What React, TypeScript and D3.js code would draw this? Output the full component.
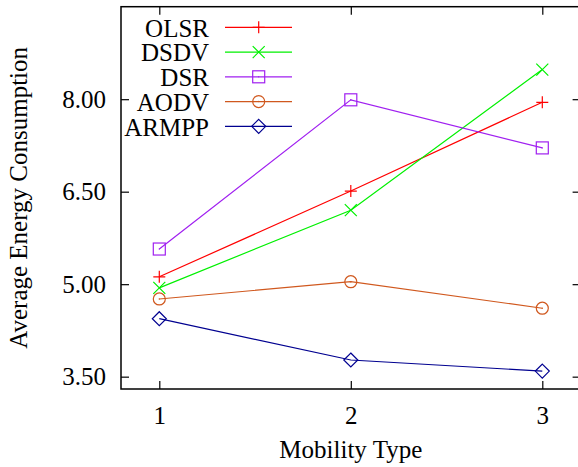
import * as d3 from 'd3';
import React, { useRef, useEffect } from 'react';

const mobilityTypes = [1, 2, 3];
const olsr = [5.12, 6.51, 7.95];
const dsdv = [4.94, 6.2, 8.48];
const dsr = [5.57, 7.99, 7.21];
const aodv = [4.76, 5.04, 4.61];
const armpp = [4.44, 3.77, 3.59];
const yTicks = [3.5, 5.0, 6.5, 8.0];

const seriesList = [
  { name: 'OLSR', values: olsr, color: '#ff0000', marker: 'plus' },
  { name: 'DSDV', values: dsdv, color: '#00f000', marker: 'cross' },
  { name: 'DSR', values: dsr, color: '#a020f0', marker: 'square' },
  { name: 'AODV', values: aodv, color: '#d0581e', marker: 'circle' },
  { name: 'ARMPP', values: armpp, color: '#000090', marker: 'diamond' },
];

export default function App() {
  const svgRef = useRef<SVGSVGElement>(null);
  const width = 578;
  const height = 467;
  const left = 121;
  const right = 580.6;
  const top = 6.7;
  const bottom = 389;
  const font = 'Liberation Serif, Times New Roman, Times, serif';
  const fontSize = '25px';

  useEffect(() => {
    if (!svgRef.current) return;
    const svg = d3.select(svgRef.current);
    svg.selectAll('*').remove();
    svg.style('font-family', font);

    const x = d3.scaleLinear().domain([0.8, 3.2]).range([left, right]);
    const y = d3.scaleLinear().domain([3.3, 9.5]).range([bottom, top]);

    // draws one point symbol
    const drawMarker = (g: any, kind: string, cx: number, cy: number, color: string) => {
      const s = 6;
      if (kind === 'plus') {
        g.append('path').attr('d', `M${cx - s},${cy}H${cx + s}M${cx},${cy - s}V${cy + s}`)
          .attr('stroke', color).attr('stroke-width', 1.2).attr('fill', 'none');
      } else if (kind === 'cross') {
        g.append('path').attr('d', `M${cx - s},${cy - s}L${cx + s},${cy + s}M${cx - s},${cy + s}L${cx + s},${cy - s}`)
          .attr('stroke', color).attr('stroke-width', 1.2).attr('fill', 'none');
      } else if (kind === 'square') {
        g.append('rect').attr('x', cx - s).attr('y', cy - s).attr('width', 2 * s).attr('height', 2 * s)
          .attr('stroke', color).attr('stroke-width', 1.2).attr('fill', 'none');
        g.append('circle').attr('cx', cx).attr('cy', cy).attr('r', 0.7).attr('fill', color);
      } else if (kind === 'circle') {
        g.append('circle').attr('cx', cx).attr('cy', cy).attr('r', s)
          .attr('stroke', color).attr('stroke-width', 1.2).attr('fill', 'none');
        g.append('circle').attr('cx', cx).attr('cy', cy).attr('r', 0.7).attr('fill', color);
      } else {
        const d = 7;
        g.append('path').attr('d', `M${cx},${cy - d}L${cx + d},${cy}L${cx},${cy + d}L${cx - d},${cy}Z`)
          .attr('stroke', color).attr('stroke-width', 1.2).attr('fill', 'none');
      }
    };

    // axes with inward ticks
    const styleAxis = (g: any) => {
      g.attr('font-family', null).attr('font-size', null);
      g.select('.domain').remove();
      g.selectAll('.tick line').attr('stroke', '#000').attr('stroke-width', 1.2);
      g.selectAll('.tick text').style('font-family', font).style('font-size', fontSize).attr('fill', '#000');
    };

    svg.append('g')
      .attr('transform', `translate(0,${bottom})`)
      .call(d3.axisBottom(x).tickValues(mobilityTypes).tickFormat(d3.format('d')).tickSizeInner(-8).tickSizeOuter(0).tickPadding(17))
      .call(styleAxis);
    svg.append('g')
      .attr('transform', `translate(0,${top})`)
      .call(d3.axisTop(x).tickValues(mobilityTypes).tickFormat(() => '').tickSizeInner(-8).tickSizeOuter(0))
      .call(styleAxis);
    svg.append('g')
      .attr('transform', `translate(${left},0)`)
      .call(d3.axisLeft(y).tickValues(yTicks).tickFormat(d3.format('.2f')).tickSizeInner(-8).tickSizeOuter(0).tickPadding(15))
      .call(styleAxis);
    svg.append('g')
      .attr('transform', `translate(${right},0)`)
      .call(d3.axisRight(y).tickValues(yTicks).tickFormat(() => '').tickSizeInner(-8).tickSizeOuter(0))
      .call(styleAxis);

    // frame
    svg.append('rect')
      .attr('x', left).attr('y', top)
      .attr('width', right - left).attr('height', bottom - top)
      .attr('fill', 'none').attr('stroke', '#000').attr('stroke-width', 1.5);

    const line = d3.line<number>()
      .x((d, i) => x(mobilityTypes[i]))
      .y(d => y(d));

    seriesList.forEach(s => {
      const g = svg.append('g');
      g.append('path')
        .attr('d', line(s.values))
        .attr('fill', 'none')
        .attr('stroke', s.color)
        .attr('stroke-width', 1.2);
      s.values.forEach((v, i) => drawMarker(g, s.marker, x(mobilityTypes[i]), y(v), s.color));
    });

    // legend
    const legend = svg.append('g');
    seriesList.forEach((s, i) => {
      const ly = 27.3 + i * 24.75;
      legend.append('text')
        .attr('x', 209).attr('y', ly)
        .attr('dy', '0.37em')
        .attr('text-anchor', 'end')
        .style('font-family', font).style('font-size', fontSize)
        .text(s.name);
      legend.append('line')
        .attr('x1', 225).attr('x2', 292).attr('y1', ly).attr('y2', ly)
        .attr('stroke', s.color).attr('stroke-width', 1.2);
      drawMarker(legend, s.marker, 258.7, ly, s.color);
    });

    // axis titles
    svg.append('text')
      .attr('x', (left + right) / 2).attr('y', 458)
      .attr('text-anchor', 'middle')
      .style('font-family', font).style('font-size', fontSize)
      .text('Mobility Type');
    svg.append('text')
      .attr('transform', `translate(27.3,${(top + bottom) / 2}) rotate(-90)`)
      .attr('text-anchor', 'middle')
      .style('font-family', font).style('font-size', fontSize)
      .text('Average Energy Consumption');
  }, []);

  return (
    <svg ref={svgRef} width={width} height={height}
      style={{ position: 'absolute', left: 0, top: 0, background: '#fff' }} />
  );
}
